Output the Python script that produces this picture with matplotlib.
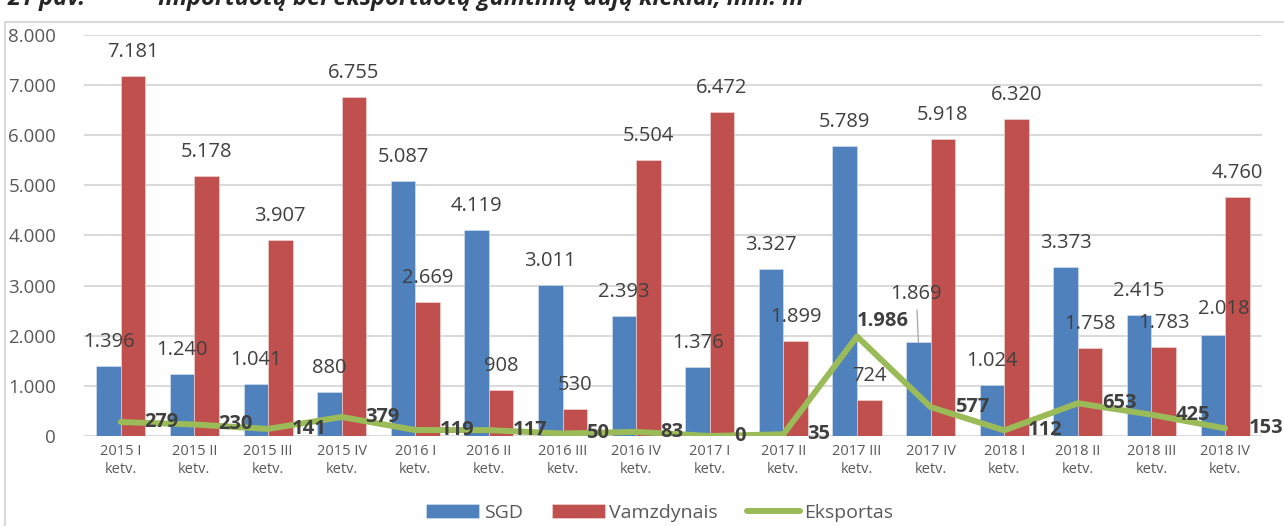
import matplotlib
matplotlib.use("Agg")
import matplotlib.pyplot as plt
import numpy as np
from matplotlib.patches import Rectangle

plt.rcParams['font.family'] = ['Open Sans', 'DejaVu Sans']

# duomenys (mln. m3)
ketvirciai = ["2015 I", "2015 II", "2015 III", "2015 IV",
              "2016 I", "2016 II", "2016 III", "2016 IV",
              "2017 I", "2017 II", "2017 III", "2017 IV",
              "2018 I", "2018 II", "2018 III", "2018 IV"]
sgd = [1396, 1240, 1041, 880, 5087, 4119, 3011, 2393,
       1376, 3327, 5789, 1869, 1024, 3373, 2415, 2018]
vamzdynais = [7181, 5178, 3907, 6755, 2669, 908, 530, 5504,
              6472, 1899, 724, 5918, 6320, 1758, 1783, 4760]
eksportas = [279, 230, 141, 379, 119, 117, 50, 83,
             0, 35, 1986, 577, 112, 653, 425, 153]

MELYNA = '#4f81bd'
RAUDONA = '#c0504d'
ZALIA = '#9bbb59'
TEKSTAS = '#404040'
PILKA = '#595959'


def fmt(v):
    # tukstanciu skirtukas - taskas
    return f"{v:,}".replace(",", ".")


fig = plt.figure(figsize=(12.84, 5.26), dpi=100)

# remelis aplink diagrama
fig.patches.append(Rectangle((5 / 1284, -0.05), 1.1, 0.05 + 1 - 22 / 526,
                             transform=fig.transFigure, fill=False,
                             edgecolor='#d9d9d9', linewidth=1.5))

# antraste (virsuje nukirpta, kaip originale)
fig.text(8 / 1284, 1 - 5 / 526, "21 pav.", fontsize=17, fontweight='bold',
         fontstyle='italic', color='#262626', va='baseline')
fig.text(158 / 1284, 1 - 5 / 526,
         "Importuotų bei eksportuotų gamtinių dujų kiekiai, mln. m³",
         fontsize=17, fontweight='bold', fontstyle='italic',
         color='#262626', va='baseline')

ax = fig.add_axes([0.0654, 0.1711, 0.9174, 0.7624])
x = np.arange(len(ketvirciai))
w = 0.333

b1 = ax.bar(x - w / 2, sgd, w, color=MELYNA, edgecolor='#dce6f2',
            linewidth=0.4, label='SGD', zorder=2)
b2 = ax.bar(x + w / 2, vamzdynais, w, color=RAUDONA, edgecolor='#f2dcdb',
            linewidth=0.4, label='Vamzdynais', zorder=2)
ln, = ax.plot(x, eksportas, color=ZALIA, linewidth=4.3,
              solid_capstyle='round', solid_joinstyle='round',
              label='Eksportas', zorder=3)

ax.set_xlim(-0.5, len(ketvirciai) - 0.5)
ax.set_ylim(0, 8000)
ax.set_yticks(np.arange(0, 8001, 1000))
ax.set_yticklabels([fmt(v) for v in range(0, 8001, 1000)])
ax.set_xticks(x)
ax.set_xticklabels([k + "\nketv." for k in ketvirciai], linespacing=1.25)
ax.tick_params(axis='y', length=0, pad=20, labelsize=13.5, labelcolor=PILKA)
ax.tick_params(axis='x', length=0, pad=6, labelsize=10.5, labelcolor=PILKA)
for s in ax.spines.values():
    s.set_visible(False)
for v in range(0, 8001, 1000):
    ax.axhline(v, color='#d9d9d9', linewidth=1.4, zorder=1)

# stulpeliu reiksmes
for i, v in enumerate(sgd):
    dx, dy = 0, 24
    if i == 15:
        dx, dy = 11, 26
    if i == 11:
        ax.annotate(fmt(v), (x[i] - w / 2, v), xytext=(-2, 48),
                    textcoords='offset pixels', ha='center', va='center',
                    fontsize=14.5, color=TEKSTAS, zorder=5,
                    arrowprops=dict(arrowstyle='-', color='#a6a6a6',
                                    lw=0.9, shrinkA=2, shrinkB=0))
        continue
    ax.annotate(fmt(v), (x[i] - w / 2, v), xytext=(dx, dy),
                textcoords='offset pixels', ha='center', va='center',
                fontsize=14.5, color=TEKSTAS, zorder=5)

for i, v in enumerate(vamzdynais):
    ax.annotate(fmt(v), (x[i] + w / 2, v), xytext=(0, 24),
                textcoords='offset pixels', ha='center', va='center',
                fontsize=14.5, color=TEKSTAS, zorder=5)

# eksporto reiksmes
for i, v in enumerate(eksportas):
    off = (0, 15) if i == 10 else (24, 0)
    ax.annotate(fmt(v), (x[i], v), xytext=off, textcoords='offset pixels',
                ha='left', va='center', fontsize=14.5, fontweight='bold',
                color=TEKSTAS, zorder=6, annotation_clip=False)

leg = fig.legend([b1, b2, ln], ['SGD', 'Vamzdynais', 'Eksportas'],
                 loc='center', bbox_to_anchor=(660 / 1284, 1 - 513 / 526),
                 ncol=3, frameon=False, fontsize=14, handlelength=2.7,
                 handletextpad=0.25, columnspacing=1.5)
for t in leg.get_texts():
    t.set_color(PILKA)

fig.savefig("out.png", dpi=100)
